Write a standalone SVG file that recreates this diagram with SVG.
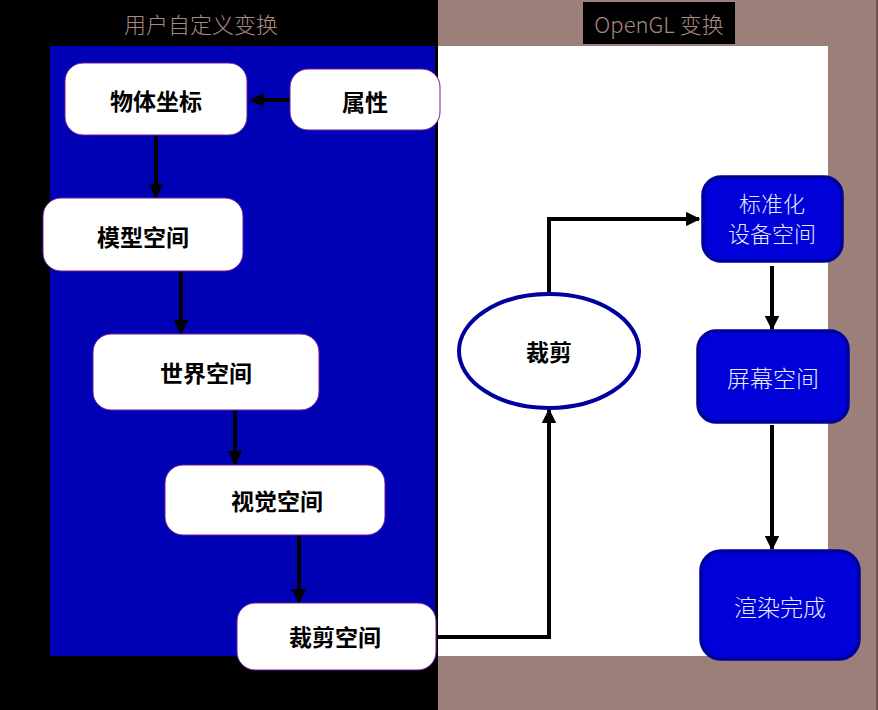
<svg xmlns="http://www.w3.org/2000/svg" width="878" height="710" viewBox="0 0 878 710">
<defs>
<marker id="ah" viewBox="0 0 10 10" refX="9" refY="5" markerWidth="3.6" markerHeight="3.6" orient="auto" markerUnits="strokeWidth">
<path d="M0,0 L10,5 L0,10 z" fill="#000"/>
</marker>
<style>
.wn{fill:#fff;stroke:#6a1aa0;stroke-width:1}
.bn{fill:#0000d8;stroke:#00009c;stroke-width:3.5}
.wt{font-family:"Noto Sans CJK SC","Noto Sans",sans-serif;font-size:23px;font-weight:bold;fill:#000;text-anchor:middle;dominant-baseline:central}
.bt{font-family:"Noto Sans CJK SC","Noto Sans",sans-serif;font-size:23px;font-weight:300;fill:#e6ecff;text-anchor:middle;dominant-baseline:central}
.bt2{font-family:"Noto Sans CJK SC","Noto Sans",sans-serif;font-size:22px;font-weight:300;fill:#e6ecff;text-anchor:middle}
.ti{font-family:"Noto Sans CJK SC","Noto Sans",sans-serif;font-size:22px;font-weight:300;fill:#a88a84;text-anchor:middle;dominant-baseline:central}
.c{fill:none;stroke:#000;stroke-width:4;marker-end:url(#ah)}
</style>
</defs>
<rect x="0" y="0" width="438" height="710" fill="#000"/>
<rect x="438" y="0" width="440" height="710" fill="#9c7f78"/>
<rect x="876" y="0" width="2" height="710" fill="#6a5550"/>
<rect x="50" y="46" width="385" height="610" fill="#0000b4"/>
<rect x="438" y="46" width="390" height="610" fill="#fff"/>
<text class="ti" x="201" y="23">用户自定义变换</text>
<rect x="583" y="2" width="152" height="42" fill="#000"/>
<text class="ti" x="659" y="23">OpenGL 变换</text>
<g id="connectors">
<line class="c" x1="290" y1="100" x2="251" y2="100"/>
<line class="c" x1="156" y1="135" x2="156" y2="197"/>
<line class="c" x1="181" y1="271" x2="181" y2="333"/>
<line class="c" x1="235" y1="410" x2="235" y2="464"/>
<line class="c" x1="299" y1="535" x2="299" y2="602"/>
<polyline class="c" points="436,637 549,637 549,410"/>
<polyline class="c" points="549,294 549,219 699,219"/>
<line class="c" x1="772" y1="266" x2="772" y2="329"/>
<line class="c" x1="772" y1="425" x2="772" y2="549"/>
</g>
<g id="n-wuti"><rect class="wn" x="65" y="63" width="182" height="72" rx="18"/><text class="wt" x="156" y="100">物体坐标</text></g>
<g id="n-shuxing"><rect class="wn" x="290" y="69" width="150" height="61" rx="18"/><text class="wt" x="365" y="101">属性</text></g>
<g id="n-moxing"><rect class="wn" x="43" y="198" width="200" height="73" rx="18"/><text class="wt" x="143" y="236">模型空间</text></g>
<g id="n-shijie"><rect class="wn" x="93" y="334" width="226" height="76" rx="18"/><text class="wt" x="206" y="372">世界空间</text></g>
<g id="n-shijue"><rect class="wn" x="165" y="465" width="220" height="70" rx="18"/><text class="wt" x="277" y="500">视觉空间</text></g>
<g id="n-caijiankj"><rect class="wn" x="237" y="603" width="199" height="67" rx="18"/><text class="wt" x="335" y="636">裁剪空间</text></g>
<g id="n-caijian"><ellipse cx="549" cy="351" rx="90" ry="57" fill="#fff" stroke="#0000a0" stroke-width="4"/><text class="wt" x="549" y="351">裁剪</text></g>
<g id="n-ndc"><rect class="bn" x="703" y="177" width="139" height="84" rx="18"/><text class="bt2" x="772" y="212">标准化</text><text class="bt2" x="772" y="242">设备空间</text></g>
<g id="n-screen"><rect class="bn" x="698" y="331" width="150" height="91" rx="18"/><text class="bt" x="773" y="377">屏幕空间</text></g>
<g id="n-render"><rect class="bn" x="701" y="551" width="158" height="108" rx="20"/><text class="bt" x="780" y="606">渲染完成</text></g>
</svg>
